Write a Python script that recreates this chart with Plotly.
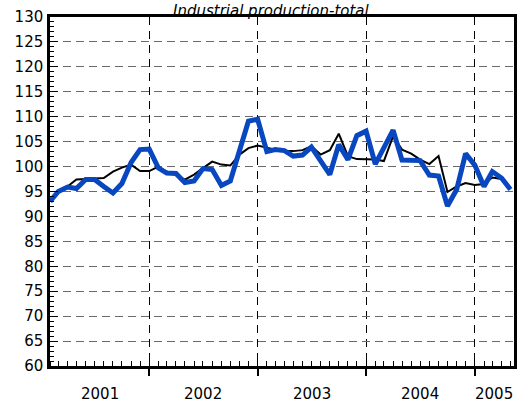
import pandas as pd
import plotly.graph_objects as go

# monthly observations, Feb 2001 .. May 2005
months = pd.date_range("2001-02-01", periods=52, freq="MS")

# thin black line
trend = [93.0, 95.0, 96.0, 97.4, 97.5, 97.6, 97.7, 99.0, 99.8, 100.4, 99.1, 99.1,
         100.0, 99.0, 98.3, 97.4, 98.4, 99.7, 101.0, 100.4, 100.2, 102.4, 103.7, 104.2,
         103.7, 103.4, 103.1, 103.1, 103.3, 104.1, 102.4, 103.3, 106.6, 102.1, 101.5, 101.4,
         101.4, 101.1, 106.1, 103.4, 102.6, 101.4, 100.5, 102.1, 94.9, 96.0, 96.7, 96.3,
         96.5, 97.8, 97.5, 95.5]

# thick blue line
total = [93.0, 95.0, 95.9, 95.6, 97.4, 97.4, 96.0, 94.7, 96.6, 100.8, 103.4, 103.5,
         99.7, 98.7, 98.6, 96.8, 97.1, 99.6, 99.4, 96.2, 97.1, 103.4, 109.1, 109.5,
         103.0, 103.4, 103.2, 102.1, 102.3, 103.9, 101.0, 98.4, 104.4, 101.4, 106.2, 107.1,
         100.5, 103.7, 107.3, 101.3, 101.3, 101.2, 98.3, 98.1, 92.1, 95.4, 102.6, 100.3,
         96.0, 99.0, 97.7, 95.4]

years = [2001, 2002, 2003, 2004, 2005]
title = "Industrial production-total"

x_start = pd.Timestamp("2001-02-01")
x_end = pd.Timestamp("2005-05-13")

fig = go.Figure()
fig.add_trace(go.Scatter(x=months, y=trend, mode="lines",
                         line=dict(color="black", width=2)))
fig.add_trace(go.Scatter(x=months, y=total, mode="lines",
                         line=dict(color="#0847c0", width=5)))

# year labels centred on the visible part of each year
for yr in years:
    a = max(pd.Timestamp(f"{yr}-01-01"), x_start)
    b = min(pd.Timestamp(f"{yr + 1}-01-01"), x_end)
    fig.add_annotation(x=a + (b - a) / 2, y=0, xref="x", yref="paper",
                       yanchor="top", yshift=-17, showarrow=False, text=str(yr),
                       font=dict(size=15, color="black"))

# title squeezed into the strip above the frame
fig.add_annotation(x=0.478, y=1, xref="paper", yref="paper", yanchor="bottom",
                   yshift=-4, showarrow=False, text=title, borderpad=0,
                   font=dict(size=15, color="black", style="italic"))

fig.update_layout(
    width=528, height=403,
    margin=dict(l=50, r=14, t=17, b=37, autoexpand=False),
    paper_bgcolor="white", plot_bgcolor="white",
    showlegend=False,
    font=dict(family="DejaVu Sans", size=15, color="black"),
)
fig.update_xaxes(
    range=[x_start, x_end], automargin=False,
    tick0="2002-01-01", dtick="M12", tickmode="linear",
    showticklabels=False,
    ticks="outside", ticklen=7, tickwidth=2, tickcolor="black",
    showgrid=True, gridcolor="black", gridwidth=1, griddash="8px,6px",
    minor=dict(tick0="2001-01-01", dtick="M1", ticks="inside", ticklen=5,
               tickcolor="black", tickwidth=1, showgrid=False),
    showline=True, linecolor="black", linewidth=2.5, mirror=True,
    zeroline=False,
)
fig.update_yaxes(
    range=[60, 130], dtick=5, tick0=60, automargin=False,
    ticks="inside", ticklen=8, tickwidth=1, tickcolor="black",
    showgrid=True, gridcolor="#6a6a6a", gridwidth=1, griddash="8px,5px",
    minor=dict(dtick=1, ticks="inside", ticklen=4, tickcolor="black",
               tickwidth=1, showgrid=False),
    showline=True, linecolor="black", linewidth=2.5, mirror=True,
    zeroline=False, ticklabelstandoff=1,
)

# page body has a default 8px margin; drop it so the figure sits at the corner
fig.write_html("out.html", config={"displayModeBar": False},
               post_script="document.body.style.margin='0px';")
